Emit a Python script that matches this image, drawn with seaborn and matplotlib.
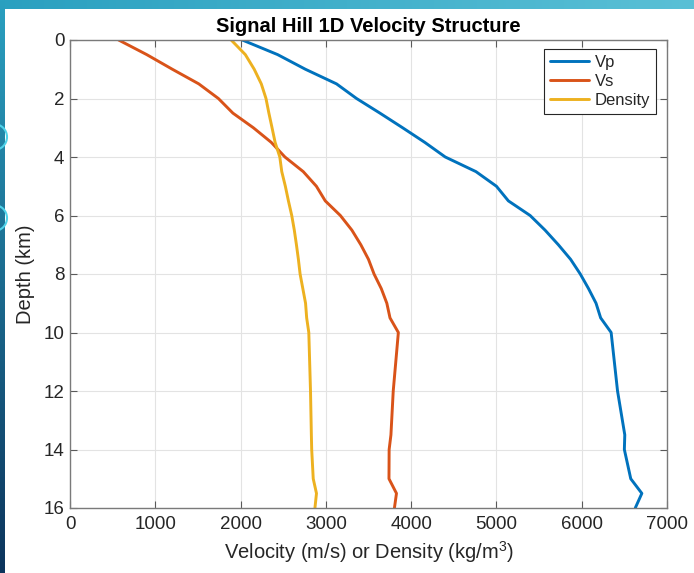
import numpy as np
import pandas as pd
import matplotlib
matplotlib.use("Agg")
import matplotlib.pyplot as plt
from matplotlib.patches import Circle
import seaborn as sns

# ---- data ----
depth_km = [0, 0.5, 1, 1.5, 2, 2.5, 3, 3.5, 4, 4.5, 5, 5.5, 6, 6.5, 7, 7.5,
            8, 8.5, 9, 9.5, 10, 12, 13.5, 14, 15, 15.5, 16]
vp = [2020, 2435, 2760, 3125, 3360, 3634, 3900, 4160, 4400, 4760, 5000, 5140,
      5395, 5570, 5726, 5870, 5983, 6080, 6168, 6222, 6345, 6420, 6505, 6500,
      6575, 6705, 6628]
vs = [570, 900, 1200, 1510, 1740, 1910, 2150, 2360, 2520, 2735, 2889, 2993,
      3170, 3305, 3410, 3500, 3565, 3650, 3715, 3752, 3850, 3790, 3763, 3742,
      3740, 3828, 3804]
density = [1890, 2056, 2160, 2243, 2298, 2332, 2369, 2405, 2460, 2483, 2525,
           2561, 2600, 2630, 2655, 2678, 2698, 2730, 2762, 2775, 2800, 2820,
           2830, 2834, 2852, 2890, 2872]
series_names = ["Vp", "Vs", "Density"]
series_colors = ["#0072BD", "#D95319", "#EDB120"]
x_ticks = [0, 1000, 2000, 3000, 4000, 5000, 6000, 7000]
y_ticks = [0, 2, 4, 6, 8, 10, 12, 14, 16]

df = pd.concat([
    pd.DataFrame({"Depth": depth_km, "Value": vals, "Quantity": name})
    for name, vals in zip(series_names, [vp, vs, density])
], ignore_index=True)

sns.set_style("ticks")
plt.rcParams["font.family"] = ["Liberation Sans", "DejaVu Sans"]
plt.rcParams["mathtext.fontset"] = "custom"
plt.rcParams["mathtext.rm"] = "Liberation Sans"

W, H = 694, 573
fig = plt.figure(figsize=(W / 100, H / 100), dpi=100)

# ---- slide background decoration ----
bg = fig.add_axes([0, 0, 1, 1], zorder=-10)
img = np.ones((H, W, 3))
top_l = np.array([42, 160, 192]) / 255
top_r = np.array([90, 192, 214]) / 255
bot = np.array([12, 52, 92]) / 255
t = np.linspace(0, 1, W)[:, None]
img[:9, :, :] = (top_l * (1 - t) + top_r * t)[None, :, :]
s = np.linspace(0, 1, H)[:, None]
img[:, :5, :] = (top_l * (1 - s) + bot * s)[:, None, :]
bg.imshow(img, extent=(0, W, H, 0), aspect="auto", interpolation="nearest")
for cy in (137, 218):
    bg.add_patch(Circle((-6, cy), 13, facecolor="none", edgecolor="#4fd3ea", lw=1.5))
bg.set_xlim(0, W)
bg.set_ylim(H, 0)
bg.axis("off")

# ---- main axes ----
ax = fig.add_axes([70 / W, 1 - 508 / H, 597 / W, 468 / H])
sns.lineplot(data=df, x="Value", y="Depth", hue="Quantity", orient="y",
             sort=False, estimator=None, palette=series_colors,
             hue_order=series_names, linewidth=2.1, ax=ax, legend=False)

ax.set_xlim(0, 7000)
ax.set_ylim(16, 0)
ax.set_xticks(x_ticks)
ax.set_yticks(y_ticks)
ax.grid(True, color="#e3e3e3", linewidth=0.8)
ax.set_axisbelow(True)
for sp in ax.spines.values():
    sp.set_visible(True)
    sp.set_color("#7a7a7a")
    sp.set_linewidth(1.0)
ax.tick_params(direction="in", top=True, right=True, length=5, width=0.8,
               color="#5a5a5a", labelsize=13.5, labelcolor="#262626")
ax.tick_params(axis="x", pad=6)
ax.tick_params(axis="y", pad=4)

ax.set_title("Signal Hill 1D Velocity Structure", fontsize=14.5,
             fontweight="bold", color="black")
ax.set_xlabel("Velocity (m/s) or Density (kg/m$^3$)", fontsize=14.5,
              color="#262626", labelpad=4)
ax.set_ylabel("Depth (km)", fontsize=14.5, color="#262626", labelpad=6)

handles = [plt.Line2D([], [], color=c, lw=2.1) for c in series_colors]
leg = ax.legend(handles, series_names, loc="upper right",
                bbox_to_anchor=((656 - 70) / 597, (508 - 49) / 468),
                borderaxespad=0, fancybox=False, framealpha=1,
                edgecolor="#262626", fontsize=12, handlelength=2.35,
                handletextpad=0.35, labelspacing=0.25, borderpad=0.35)
leg.get_frame().set_linewidth(0.8)

fig.savefig("out.png", dpi=100)
